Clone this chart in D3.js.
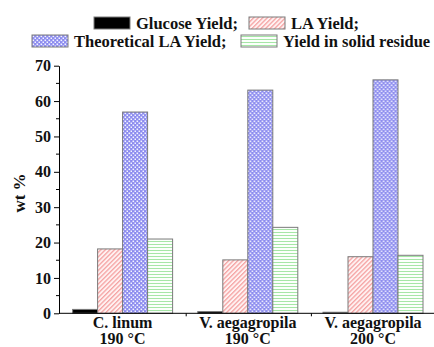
<!DOCTYPE html>
<html lang="en">
<head>
<meta charset="UTF-8">
<title>Yields</title>
<script src="https://d3js.org/d3.v7.min.js"></script>
<style>
  body { margin: 0; background: #fff; }
  svg text { font-family: "Liberation Serif", "Times New Roman", "DejaVu Serif", serif; font-weight: bold; fill: #111; }
</style>
</head>
<body>
<div id="chart"></div>
<script>
// data
const catLine1 = ["C. linum", "V. aegagropila", "V. aegagropila"];
const catLine2 = ["190 °C", "190 °C", "200 °C"];
const seriesNames = ["Glucose Yield;", "LA Yield;", "Theoretical LA Yield;", "Yield in solid residue"];
const glucose = [1.1, 0.5, 0.3];
const laYield = [18.2, 15.1, 16.0];
const theoretical = [56.9, 63.1, 66.0];
const solid = [21.0, 24.3, 16.4];
const yTicks = [0, 10, 20, 30, 40, 50, 60, 70];

const W = 434, H = 347;
const svg = d3.select("#chart").append("svg")
    .attr("width", W).attr("height", H);

// fill patterns
const defs = svg.append("defs");
const pRed = defs.append("pattern").attr("id", "pRed")
    .attr("patternUnits", "userSpaceOnUse").attr("width", 3.2).attr("height", 3.2)
    .attr("patternTransform", "rotate(-45)");
pRed.append("rect").attr("width", 3.2).attr("height", 3.2).attr("fill", "#fff2f2");
pRed.append("rect").attr("width", 3.2).attr("height", 1.3).attr("fill", "#f5a3a3");

const pBlue = defs.append("pattern").attr("id", "pBlue")
    .attr("patternUnits", "userSpaceOnUse").attr("width", 4).attr("height", 4);
pBlue.append("rect").attr("width", 4).attr("height", 4).attr("fill", "#8c8cef");
pBlue.append("rect").attr("x", 0.5).attr("y", 0.5).attr("width", 1.6).attr("height", 1.6).attr("fill", "#f4f4ff");
pBlue.append("rect").attr("x", 2.5).attr("y", 2.5).attr("width", 1.6).attr("height", 1.6).attr("fill", "#f4f4ff");

const pGreen = defs.append("pattern").attr("id", "pGreen")
    .attr("patternUnits", "userSpaceOnUse").attr("width", 4).attr("height", 3);
pGreen.append("rect").attr("width", 4).attr("height", 3).attr("fill", "#fbfffb");
pGreen.append("rect").attr("y", 1).attr("width", 4).attr("height", 1).attr("fill", "#a6e6a6");

const fills = ["#000", "url(#pRed)", "url(#pBlue)", "url(#pGreen)"];
const values = [glucose, laYield, theoretical, solid];

// scales
const x0 = d3.scaleBand().domain(d3.range(catLine1.length)).range([60, 435.6]);
const x1 = d3.scaleBand().domain(d3.range(seriesNames.length))
    .range([12.6, x0.bandwidth() - 12.6]);
const y = d3.scaleLinear().domain([0, 70]).range([313.3, 65.7]);

// bars
const rows = d3.range(catLine1.length).map(i => values.map((s, k) => ({ g: i, k: k, v: s[i] })));
svg.append("g").selectAll("g")
    .data(rows)
    .join("g")
    .attr("transform", (d, i) => `translate(${x0(i)},0)`)
    .selectAll("rect")
    .data(d => d)
    .join("rect")
    .attr("x", d => x1(d.k))
    .attr("y", d => y(d.v))
    .attr("width", x1.bandwidth())
    .attr("height", d => y(0) - y(d.v))
    .attr("fill", d => fills[d.k])
    .attr("stroke", "#7a7a7a")
    .attr("stroke-width", 1);

// y axis
const yAxis = svg.append("g").attr("transform", "translate(59,0)");
yAxis.call(d3.axisLeft(y).tickValues(yTicks).tickSize(5).tickSizeOuter(0).tickPadding(3));
yAxis.attr("font-family", null);
yAxis.selectAll(".tick text").attr("font-size", 16);
svg.append("g").attr("transform", "translate(59,0)")
    .selectAll("line")
    .data(d3.range(5, 70, 10))
    .join("line")
    .attr("x1", -3).attr("x2", 0)
    .attr("y1", d => y(d)).attr("y2", d => y(d))
    .attr("stroke", "#000");

// x axis line with group separator ticks
svg.append("line")
    .attr("x1", 59).attr("x2", W).attr("y1", y(0)).attr("y2", y(0))
    .attr("stroke", "#000");
svg.append("g").selectAll("line")
    .data(d3.range(1, catLine1.length))
    .join("line")
    .attr("x1", d => x0(d) + 1).attr("x2", d => x0(d) + 1)
    .attr("y1", y(0)).attr("y2", y(0) + 3)
    .attr("stroke", "#000");

// category labels
const cat = svg.append("g").selectAll("text")
    .data(d3.range(catLine1.length))
    .join("text")
    .attr("text-anchor", "middle")
    .attr("font-size", 16);
cat.append("tspan")
    .attr("x", d => x0(d) + x0.bandwidth() / 2)
    .attr("y", 328)
    .text(d => catLine1[d]);
cat.append("tspan")
    .attr("x", d => x0(d) + x0.bandwidth() / 2)
    .attr("y", 344)
    .text(d => catLine2[d]);

// y title
svg.append("text")
    .attr("transform", "translate(25,193) rotate(-90)")
    .attr("text-anchor", "middle")
    .attr("font-size", 17)
    .text("wt %");

// legend
const legendPos = [
    { x: 94, y: 17 }, { x: 249, y: 17 },
    { x: 32, y: 35 }, { x: 241, y: 35 }
];
const lg = svg.append("g").selectAll("g")
    .data(seriesNames)
    .join("g")
    .attr("transform", (d, i) => `translate(${legendPos[i].x},${legendPos[i].y})`);
lg.append("rect")
    .attr("width", 36).attr("height", 12)
    .attr("fill", (d, i) => fills[i])
    .attr("stroke", "#7a7a7a");
lg.append("text")
    .attr("x", 42).attr("y", 12)
    .attr("font-size", 16.5)
    .text(d => d);
</script>
</body>
</html>
